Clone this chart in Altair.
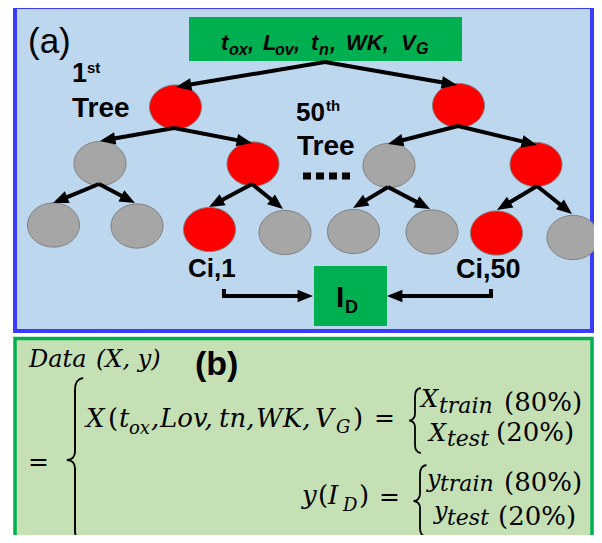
import math
import altair as alt
import pandas as pd

# ---------------- canvas (page pixel coordinates) ----------------
W, H = 586, 527
XD = [8, 594]
YD = [8, 535]

# ---------------- frames and boxes ----------------
box_x1 = [15, 15, 189, 314]
box_x2 = [592, 592, 462, 387]
box_y1 = [7, 338.5, 17, 266]
box_y2 = [331, 552, 61, 326]
box_fill = ["#BDD7EE", "#C5E0B4", "#00B050", "#00B050"]
box_stroke = ["#3B3BFF", "#00B050", "#00B050", "#00B050"]
box_sw = [4, 3.5, 0, 0]

# ---------------- tree nodes ----------------
node_x = [175.5, 458.5, 100, 253, 389, 536, 53.5, 137, 209.5, 285, 353.5, 432, 496.5, 573]
node_y = [107, 105.5, 163.5, 164, 165.5, 164.5, 225, 226, 229.5, 232.5, 231.5, 232, 233, 237.5]
node_state = ["path", "path", "other", "path", "other", "path",
              "other", "other", "path", "other", "other", "other", "path", "other"]

# ---------------- arrows (start -> tip) ----------------
arrow_x1 = [325, 325, 174, 174, 458, 458, 99, 99, 252, 252, 388, 388, 537, 537, 224, 491]
arrow_y1 = [62, 62, 128, 128, 126, 126, 184, 184, 184, 184, 187, 187, 186, 186, 296, 296]
arrow_x2 = [176, 457, 100, 252, 388, 537, 53, 135, 209, 283, 353, 430, 497, 572, 313, 387]
arrow_y2 = [87, 85, 141, 143, 144, 145, 203, 203, 207, 209, 208, 209, 210, 214, 296, 296]

# bracket ticks (no arrowhead)
tick_x = [224, 491]
tick_y1 = [289, 289]
tick_y2 = [298, 298]

# "...." between the trees
dots_x1, dots_x2, dots_y = [303], [351], [176]

# ---------------- texts ----------------
# Arial-like bold
sb_text = ["1", "st", "Tree", "50", "th", "Tree", "Ci,1", "Ci,50", "I", "D", "(b)"]
sb_x = [72, 87, 72, 296, 326, 297, 188, 456, 336, 345, 195]
sb_y = [82, 73, 117, 121, 111, 155, 277, 278, 307, 313, 375]
sb_size = [27, 15, 28, 26, 15, 28, 26, 27, 30, 18, 34]

# Arial-like regular
sr_text = ["(a)"]
sr_x = [28]
sr_y = [53]
sr_size = [35]

# Arial-like bold italic (input box)
bi_text = ["t", "ox", ",", "L", "ov", ",", "t", "n", ",", "WK,", "V", "G"]
bi_x = [221, 229, 248, 263, 275, 294, 311, 319, 330, 346, 401, 416]
bi_y = [50, 55, 50, 50, 55, 50, 50, 55, 50, 50, 50, 54]
bi_size = [22, 16, 22, 22, 16, 22, 22, 16, 22, 22, 22, 16]

# serif italic (equation, panel b)
mi_text = ["Data", "(X, y)",
           "X", "t", "ox", ",", "Lov,", "tn,", "WK,", "V", "G",
           "X", "train", "X", "test",
           "y", "I", "D",
           "y", "train", "y", "test"]
mi_x = [29, 96,
        86, 119, 129, 151, 160, 219, 256, 315, 336,
        421, 439, 429, 447,
        302, 328, 343,
        427, 440, 434, 447]
mi_y = [367, 367,
        427, 427, 434, 427, 427, 427, 427, 427, 433,
        407, 413, 441, 446,
        504, 504, 511,
        487, 491, 519, 525]
mi_size = [24, 24,
           26, 26, 18, 26, 26, 26, 26, 26, 18,
           24, 22, 24, 22,
           26, 26, 18,
           24, 22, 24, 22]

# serif upright (equation, panel b)
mu_text = ["=", "(", ")", "=", "(80%)", "(20%)", "(", ")", "=", "(80%)", "(20%)"]
mu_x = [28, 108, 353, 374, 504, 496, 318, 359, 379, 504, 498]
mu_y = [470, 427, 427, 426, 411, 441, 504, 504, 505, 491, 525]
mu_size = [25, 26, 26, 25, 26, 26, 26, 26, 25, 26, 26]

# braces: centre, height in px
brace_big_x, brace_big_y, brace_big_h = [75], [460], [164]
brace_sub_x = [415, 420]
brace_sub_y = [420.5, 501]
brace_sub_h = [65, 72]

# ---------------- helpers ----------------
def X(f):
    return alt.X(f, type="quantitative", scale=alt.Scale(domain=XD, nice=False, zero=False), axis=None)


def Y(f):
    return alt.Y(f, type="quantitative",
                 scale=alt.Scale(domain=YD, nice=False, zero=False, reverse=True), axis=None)


box_df = pd.DataFrame(dict(x1=box_x1, x2=box_x2, y1=box_y1, y2=box_y2,
                           fill=box_fill, stroke=box_stroke, sw=box_sw))
rects = alt.Chart(box_df).mark_rect().encode(
    x=X("x1"), x2=alt.X2("x2"), y=Y("y1"), y2=alt.Y2("y2"),
    fill=alt.Fill("fill:N", scale=None),
    stroke=alt.Stroke("stroke:N", scale=None),
    strokeWidth=alt.StrokeWidth("sw:Q", scale=None),
)

ELLIPSE = "M -1 0 A 1 0.85 0 1 1 1 0 A 1 0.85 0 1 1 -1 0 Z"
node_df = pd.DataFrame(dict(x=node_x, y=node_y, state=node_state))
nodes = alt.Chart(node_df).mark_point(
    shape=ELLIPSE, size=2704, filled=True, opacity=1, stroke="#7F7F7F", strokeWidth=1
).encode(
    x=X("x"), y=Y("y"),
    fill=alt.Fill("state:N", scale=alt.Scale(domain=["path", "other"],
                                             range=["#FF0000", "#A6A6A6"]), legend=None),
)

rows = []
for x1, y1, x2, y2 in zip(arrow_x1, arrow_y1, arrow_x2, arrow_y2):
    dx, dy = x2 - x1, y2 - y1
    L = math.hypot(dx, dy)
    ux, uy = dx / L, dy / L
    rows.append(dict(x1=x1, y1=y1, xe=x2 - 10 * ux, ye=y2 - 10 * uy, tx=x2, ty=y2,
                     angle=math.degrees(math.atan2(ux, -uy)) % 360))
arrow_df = pd.DataFrame(rows)

shafts = alt.Chart(arrow_df).mark_rule(color="black", strokeWidth=4, strokeCap="butt").encode(
    x=X("x1"), y=Y("y1"), x2=alt.X2("xe"), y2=alt.Y2("ye"))
heads = alt.Chart(arrow_df).mark_point(
    shape="M 0 0 L -0.9 2.2 L 0.9 2.2 Z", size=196, filled=True, opacity=1,
    color="black", strokeWidth=0
).encode(x=X("tx"), y=Y("ty"), angle=alt.Angle("angle:Q", scale=None))

tick_df = pd.DataFrame(dict(x=tick_x, y1=tick_y1, y2=tick_y2))
ticks = alt.Chart(tick_df).mark_rule(color="black", strokeWidth=4, strokeCap="butt").encode(
    x=X("x"), y=Y("y1"), y2=alt.Y2("y2"))

dots_df = pd.DataFrame(dict(x1=dots_x1, x2=dots_x2, y=dots_y))
dots = alt.Chart(dots_df).mark_rule(color="black", strokeWidth=7, strokeDash=[8, 5],
                                     strokeCap="butt").encode(
    x=X("x1"), x2=alt.X2("x2"), y=Y("y"))


def text_layer(texts, xs, ys, sizes, font, weight="normal", style="normal"):
    df = pd.DataFrame(dict(t=texts, x=xs, y=ys, s=sizes))
    return alt.Chart(df).mark_text(
        align="left", baseline="alphabetic", font=font, fontWeight=weight,
        fontStyle=style, color="black"
    ).encode(x=X("x"), y=Y("y"), text="t:N", size=alt.Size("s:Q", scale=None))


t_sb = text_layer(sb_text, sb_x, sb_y, sb_size, "Liberation Sans", weight="bold")
t_sr = text_layer(sr_text, sr_x, sr_y, sr_size, "Liberation Sans")
t_bi = text_layer(bi_text, bi_x, bi_y, bi_size, "Liberation Sans", weight="bold", style="italic")
t_mi = text_layer(mi_text, mi_x, mi_y, mi_size, "DejaVu Serif", style="italic")
t_mu = text_layer(mu_text, mu_x, mu_y, mu_size, "DejaVu Serif")

BRACE_BIG = ("M 0.1 -1 C 0.03 -0.99 0 -0.95 0 -0.85 L 0 -0.1 C 0 -0.04 -0.04 0 -0.1 0 "
             "C -0.04 0 0 0.04 0 0.1 L 0 0.85 C 0 0.95 0.03 0.99 0.1 1")
BRACE_SUB = ("M 0.18 -1 C 0.06 -0.98 0 -0.9 0 -0.75 L 0 -0.2 C 0 -0.08 -0.08 0 -0.18 0 "
             "C -0.08 0 0 0.08 0 0.2 L 0 0.75 C 0 0.9 0.06 0.98 0.18 1")

bb_df = pd.DataFrame(dict(x=brace_big_x, y=brace_big_y, s=[h * h for h in brace_big_h]))
brace_big = alt.Chart(bb_df).mark_point(
    shape=BRACE_BIG, filled=False, opacity=1, color="black", strokeWidth=2
).encode(x=X("x"), y=Y("y"), size=alt.Size("s:Q", scale=None))

bs_df = pd.DataFrame(dict(x=brace_sub_x, y=brace_sub_y, s=[h * h for h in brace_sub_h]))
brace_sub = alt.Chart(bs_df).mark_point(
    shape=BRACE_SUB, filled=False, opacity=1, color="black", strokeWidth=1.8
).encode(x=X("x"), y=Y("y"), size=alt.Size("s:Q", scale=None))

chart = alt.layer(
    rects, nodes, shafts, heads, ticks, dots,
    t_sb, t_sr, t_bi, t_mi, t_mu, brace_big, brace_sub
).properties(
    width=W, height=H, padding=0, autosize=alt.AutoSizeParams(type="none"),
    background="white"
).configure_view(strokeWidth=0)

chart.save("out.html", embed_options={"renderer": "svg", "actions": False})
